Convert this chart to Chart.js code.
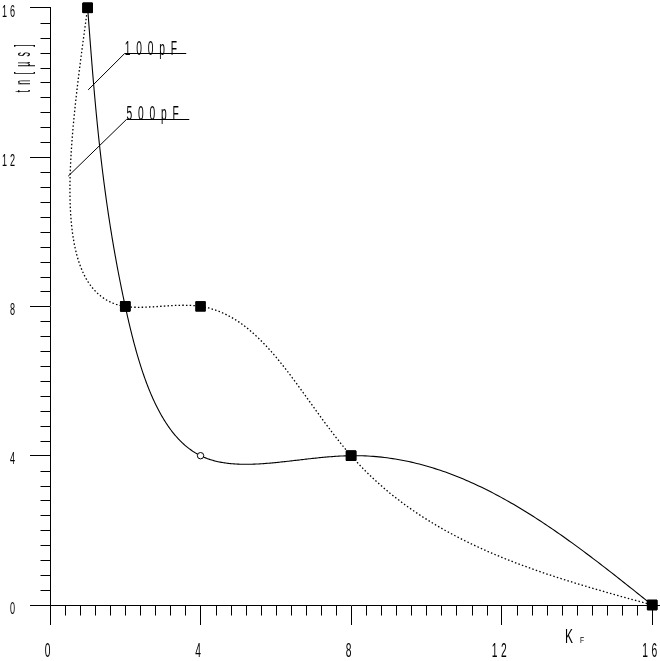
<!DOCTYPE html>
<html>
<head>
<meta charset="utf-8">
<script src="https://cdn.jsdelivr.net/npm/chart.js@4.4.1/dist/chart.umd.min.js"></script>
<style>
  html, body { margin: 0; padding: 0; background: #ffffff; }
  #wrap { width: 660px; height: 661px; }
</style>
</head>
<body>
<div id="wrap"><canvas id="c" width="660" height="661"></canvas></div>
<script>
// ---- data ----
const kF = [1, 2, 4, 8, 16];
const tn100pF = [16, 8, 4, 4, 0];
const tn500pF = [16, 8, 8, 4, 0];
const seriesNames = ['100pF', '500pF'];
const xTickValues = [0, 4, 8, 12, 16];
const xTickLabels = ['0', '4', '8', '12', '16'];
const yTickValues = [0, 4, 8, 12, 16];
const yTickLabels = ['0', '4', '8', '12', '16'];
const xTitleMain = 'K';
const xTitleSub = 'F';
const yTitle = 'tn[µs]';

const FONT = '"Liberation Sans", Arial, sans-serif';
const SPLINE_ALPHA = 0.92;

function condText(ctx, str, x, y, o) {
  ctx.save();
  ctx.font = o.size + 'px ' + FONT;
  ctx.fillStyle = '#000';
  ctx.textBaseline = 'alphabetic';
  ctx.textAlign = 'left';
  const chars = Array.from(str);
  const w = ctx.measureText(str).width * o.sx + o.gap * (chars.length - 1);
  ctx.translate(x, y);
  if (o.rotate) ctx.rotate(-Math.PI / 2);
  const start = o.align === 'center' ? -w / 2 : (o.align === 'right' ? -w : 0);
  ctx.scale(o.sx, 1);
  if ('letterSpacing' in ctx) {
    ctx.letterSpacing = (o.gap / o.sx) + 'px';
    ctx.fillText(str, start / o.sx, 0);
  } else {
    let cx = start / o.sx;
    for (const ch of chars) {
      ctx.fillText(ch, cx, 0);
      cx += ctx.measureText(ch).width + o.gap / o.sx;
    }
  }
  ctx.restore();
}

function naturalM(t, v) {
  const n = t.length, M = new Array(n).fill(0);
  if (n < 3) return M;
  const a = [], b = [], c = [], d = [];
  for (let i = 1; i < n - 1; i++) {
    const h0 = t[i] - t[i - 1], h1 = t[i + 1] - t[i];
    a.push(h0); b.push(2 * (h0 + h1)); c.push(h1);
    d.push(6 * ((v[i + 1] - v[i]) / h1 - (v[i] - v[i - 1]) / h0));
  }
  const m = b.length;
  for (let i = 1; i < m; i++) {
    const w = a[i] / b[i - 1];
    b[i] -= w * c[i - 1];
    d[i] -= w * d[i - 1];
  }
  const x = new Array(m);
  x[m - 1] = d[m - 1] / b[m - 1];
  for (let i = m - 2; i >= 0; i--) x[i] = (d[i] - c[i] * x[i + 1]) / b[i];
  for (let i = 0; i < m; i++) M[i + 1] = x[i];
  return M;
}
function evalSp(t, v, M, i, s) {
  const h = t[i + 1] - t[i], A = t[i + 1] - s, B = s - t[i];
  return M[i] * A * A * A / (6 * h) + M[i + 1] * B * B * B / (6 * h) +
    (v[i] / h - M[i] * h / 6) * A + (v[i + 1] / h - M[i + 1] * h / 6) * B;
}
function splinePath(ctx, pts) {
  const n = pts.length;
  const t = [0];
  for (let i = 1; i < n; i++) t.push(t[i - 1] + Math.pow(Math.hypot(pts[i].x - pts[i - 1].x, pts[i].y - pts[i - 1].y), SPLINE_ALPHA));
  const xs = pts.map(p => p.x), ys = pts.map(p => p.y);
  const Mx = naturalM(t, xs), My = naturalM(t, ys);
  ctx.moveTo(xs[0], ys[0]);
  for (let i = 0; i < n - 1; i++) {
    const steps = 120;
    const h = t[i + 1] - t[i];
    for (let k = 1; k <= steps; k++) {
      const s = t[i] + h * k / steps;
      ctx.lineTo(evalSp(t, xs, Mx, i, s), evalSp(t, ys, My, i, s));
    }
  }
}

const curvePlugin = {
  id: 'curves',
  beforeDatasetsDraw(chart) {
    const ctx = chart.ctx;
    chart.data.datasets.forEach((ds, di) => {
      const meta = chart.getDatasetMeta(di);
      const pts = meta.data.map(el => ({ x: el.x, y: el.y }));
      ctx.save();
      ctx.beginPath();
      splinePath(ctx, pts);
      ctx.strokeStyle = '#000';
      ctx.lineWidth = ds.curveWidth || 1;
      ctx.setLineDash(ds.curveDash || []);
      ctx.stroke();
      ctx.restore();
    });
  }
};

const notes = [
  { text: seriesNames[0], curve: [1.013, 13.80], elbow: [1.983, 14.78], end: 3.62 },
  { text: seriesNames[1], curve: [0.484, 11.49], elbow: [2.03, 13.03], end: 3.70 }
];

const decorPlugin = {
  id: 'decor',
  afterDraw(chart) {
    const ctx = chart.ctx;
    const xs = chart.scales.x, ys = chart.scales.y;
    const ax = Math.round(xs.getPixelForValue(0)) + 0.5;
    const ay = Math.round(ys.getPixelForValue(0)) + 0.5;
    ctx.save();
    ctx.strokeStyle = '#000';
    ctx.lineWidth = 1;
    ctx.beginPath();
    // minor ticks
    for (let i = 1; i < 40; i++) {
      if (i % 10 === 0) continue;
      const v = i * 0.4;
      const px = Math.round(xs.getPixelForValue(v)) + 0.5;
      ctx.moveTo(px, ay); ctx.lineTo(px, ay + 10);
      const py = Math.round(ys.getPixelForValue(v)) + 0.5;
      ctx.moveTo(ax, py); ctx.lineTo(ax - 10, py);
    }
    // axis extension to the right edge
    ctx.moveTo(xs.getPixelForValue(16), ay); ctx.lineTo(chart.width, ay);
    ctx.stroke();

    // annotation leaders
    ctx.beginPath();
    notes.forEach(n => {
      const cx = xs.getPixelForValue(n.curve[0]), cy = ys.getPixelForValue(n.curve[1]);
      const ex = xs.getPixelForValue(n.elbow[0]), ey = Math.round(ys.getPixelForValue(n.elbow[1])) + 0.5;
      const fx = xs.getPixelForValue(n.end);
      ctx.moveTo(cx, cy); ctx.lineTo(ex, ey); ctx.lineTo(fx, ey);
    });
    ctx.stroke();
    ctx.restore();

    notes.forEach(n => {
      const ex = xs.getPixelForValue(n.elbow[0]), ey = ys.getPixelForValue(n.elbow[1]);
      condText(ctx, n.text, ex, ey + 1.3, { size: 20.5, sx: 0.5, gap: 5.8, align: 'left' });
    });

    // tick labels
    xTickValues.forEach((v, i) => {
      const px = xs.getPixelForValue(v);
      condText(ctx, xTickLabels[i], px - 2.5, 657, { size: 20.5, sx: 0.5, gap: 3.5, align: 'center' });
    });
    yTickValues.forEach((v, i) => {
      const py = ys.getPixelForValue(v);
      condText(ctx, yTickLabels[i], 15, Math.max(py + 8.5, 17), { size: 16.5, sx: 0.55, gap: 3, align: 'right' });
    });

    // axis titles
    condText(ctx, xTitleMain, 565, 643, { size: 20.5, sx: 0.58, gap: 0, align: 'left' });
    condText(ctx, xTitleSub, 580, 643, { size: 8.5, sx: 0.8, gap: 0, align: 'left' });
    condText(ctx, yTitle, 30, 92.5, { size: 22, sx: 0.4, gap: 5.3, align: 'left', rotate: true });
  }
};

const toPts = ys => kF.map((x, i) => ({ x: x, y: ys[i] }));

new Chart(document.getElementById('c'), {
  type: 'scatter',
  data: {
    datasets: [
      {
        label: seriesNames[0],
        data: toPts(tn100pF),
        showLine: false,
        clip: false,
        curveDash: [],
        curveWidth: 1.1,
        pointStyle: ['rect', 'rect', 'circle', 'rect', 'rect'],
        pointRadius: [6.8, 6.8, 3.2, 6.8, 6.8],
        pointBackgroundColor: ['#000', '#000', '#fff', '#000', '#000'],
        pointBorderColor: '#000',
        pointBorderWidth: 1,
        pointHoverRadius: 0
      },
      {
        label: seriesNames[1],
        data: toPts(tn500pF),
        showLine: false,
        clip: false,
        curveDash: [1.5, 2.2],
        curveWidth: 1.3,
        pointStyle: 'rect',
        pointRadius: 6.8,
        pointBackgroundColor: '#000',
        pointBorderColor: '#000',
        pointBorderWidth: 1,
        pointHoverRadius: 0
      }
    ]
  },
  options: {
    responsive: false,
    animation: false,
    devicePixelRatio: 1,
    events: [],
    layout: { padding: { top: 6, right: 5, left: 0, bottom: 0 } },
    plugins: { legend: { display: false }, tooltip: { enabled: false } },
    scales: {
      x: {
        type: 'linear', min: 0, max: 16, position: 'bottom',
        afterBuildTicks: s => { s.ticks = xTickValues.map(v => ({ value: v })); },
        ticks: { display: false },
        grid: { drawOnChartArea: false, drawTicks: true, tickLength: 20, color: '#000', lineWidth: 1 },
        border: { display: true, color: '#000', width: 1 },
        afterFit: s => { s.height = 56; }
      },
      y: {
        type: 'linear', min: 0, max: 16, position: 'left',
        afterBuildTicks: s => { s.ticks = yTickValues.map(v => ({ value: v })); },
        ticks: { display: false },
        grid: { drawOnChartArea: false, drawTicks: true, tickLength: 20, color: '#000', lineWidth: 1 },
        border: { display: true, color: '#000', width: 1 },
        afterFit: s => { s.width = 50; }
      }
    }
  },
  plugins: [curvePlugin, decorPlugin]
});
</script>
</body>
</html>
